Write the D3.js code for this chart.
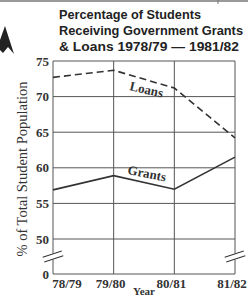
<!DOCTYPE html>
<html>
<head>
<meta charset="utf-8">
<script src="https://cdn.jsdelivr.net/npm/d3@7"></script>
<style>
  body { margin: 0; background: #fff; }
  svg { display: block; }
</style>
</head>
<body>
<svg id="chart" width="248" height="296"></svg>
<script>

// Data
const years = ["78/79", "79/80", "80/81", "81/82"];
const grants = [56.9, 58.9, 57.0, 61.5];
const loans = [72.7, 73.7, 71.2, 64.2];
const yTicks = [0, 50, 55, 60, 65, 70, 75];
const titleLines = ["Percentage of Students", "Receiving Government Grants", "& Loans 1978/79 \u2014 1981/82"];

const svg = d3.select("#chart");
const ink = "#333";
const serif = "Liberation Serif, Times New Roman, serif";

// Scales (axis is broken between 0 and 50)
const x = d3.scalePoint().domain(years).range([53, 235]);
const y = d3.scaleLinear().domain([0, 50, 75]).range([274, 239, 61]);

// Top border scrap + arrow shape at the left
svg.append("line")
    .attr("x1", 0).attr("x2", 248).attr("y1", 1).attr("y2", 1)
    .attr("stroke", "#999").attr("stroke-width", 2);
svg.append("line")
    .attr("x1", 218).attr("x2", 218).attr("y1", 0).attr("y2", 4)
    .attr("stroke", "#777").attr("stroke-width", 1);
svg.append("path")
    .attr("d", "M0,40 L5,26 L14,54 L8,47 L3,53 L0,50 Z")
    .attr("fill", "#222");

// Title (widths fitted to the reference)
const titleWidths = [142, 184, 180];
svg.append("text")
    .attr("font-family", "Liberation Sans, Arial, sans-serif")
    .attr("font-weight", "bold")
    .attr("font-size", 13)
    .attr("fill", "#222")
    .selectAll("tspan")
    .data(titleLines)
    .join("tspan")
    .attr("x", 59)
    .attr("y", (d, i) => 19 + i * 16)
    .attr("textLength", (d, i) => titleWidths[i])
    .attr("lengthAdjust", "spacingAndGlyphs")
    .text(d => d);

// Grid
const grid = svg.append("g").attr("stroke", "#555").attr("stroke-width", 1).attr("fill", "none");
grid.selectAll("line.h")
    .data(yTicks)
    .join("line")
    .attr("class", "h")
    .attr("x1", x.range()[0]).attr("x2", x.range()[1])
    .attr("y1", d => y(d)).attr("y2", d => y(d));
grid.selectAll("line.v")
    .data(years)
    .join("line")
    .attr("class", "v")
    .attr("x1", d => x(d)).attr("x2", d => x(d))
    .attr("y1", y(75)).attr("y2", y(0));

// Axis break marks
const breakY = (y(0) + y(50)) / 2;
[x.range()[0], x.range()[1]].forEach(bx => {
    svg.append("rect")
        .attr("x", bx - 9).attr("y", breakY - 3).attr("width", 18).attr("height", 6)
        .attr("fill", "#fff")
        .attr("transform", `rotate(-18,${bx},${breakY})`);
    [-2.5, 2.5].forEach(o => {
        svg.append("line")
            .attr("x1", bx - 10).attr("x2", bx + 10)
            .attr("y1", breakY + o).attr("y2", breakY + o)
            .attr("stroke", ink).attr("stroke-width", 1)
            .attr("transform", `rotate(-18,${bx},${breakY})`);
    });
});

// Y tick labels
svg.append("g")
    .attr("font-family", serif)
    .attr("font-weight", "bold")
    .attr("font-size", 13)
    .attr("fill", ink)
    .attr("text-anchor", "end")
    .selectAll("text")
    .data(yTicks)
    .join("text")
    .attr("x", 49)
    .attr("y", d => y(d) + 4.5)
    .text(d => d);

// X tick labels
svg.append("g")
    .attr("font-family", serif)
    .attr("font-weight", "bold")
    .attr("font-size", 13)
    .attr("fill", ink)
    .attr("text-anchor", "middle")
    .selectAll("text")
    .data(years)
    .join("text")
    .attr("x", (d, i) => x(d) + (i === 0 ? 14 : -3))
    .attr("y", 288)
    .text(d => d);

svg.append("text")
    .attr("x", 144).attr("y", 295)
    .attr("text-anchor", "middle")
    .attr("font-family", serif)
    .attr("font-weight", "bold")
    .attr("font-size", 11)
    .attr("fill", ink)
    .text("Year");

// Y axis title
svg.append("text")
    .attr("transform", "translate(27,169) rotate(-90)")
    .attr("text-anchor", "middle")
    .attr("font-family", serif)
    .attr("font-size", 14.5)
    .attr("fill", ink)
    .text("% of Total Student Population");

// Lines
const line = d3.line().x((d, i) => x(years[i])).y(d => y(d));

svg.append("path")
    .datum(loans)
    .attr("d", line)
    .attr("fill", "none")
    .attr("stroke", ink)
    .attr("stroke-width", 1.6)
    .attr("stroke-dasharray", "7,4");

svg.append("path")
    .datum(grants)
    .attr("d", line)
    .attr("fill", "none")
    .attr("stroke", ink)
    .attr("stroke-width", 1.6);

// Series labels along the lines
svg.append("text")
    .attr("transform", "translate(129,90) rotate(13)")
    .attr("font-family", serif)
    .attr("font-weight", "bold")
    .attr("font-size", 13)
    .attr("fill", ink)
    .text("Loans");

svg.append("text")
    .attr("transform", "translate(127,174) rotate(11)")
    .attr("font-family", serif)
    .attr("font-weight", "bold")
    .attr("font-size", 13)
    .attr("fill", ink)
    .text("Grants");

</script>
</body>
</html>
